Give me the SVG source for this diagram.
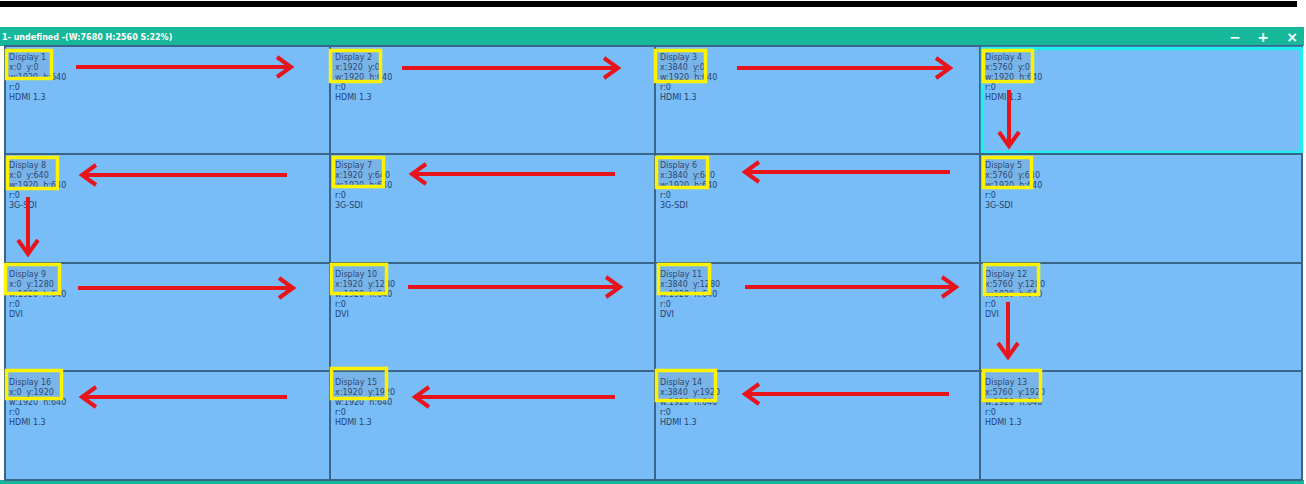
<svg xmlns="http://www.w3.org/2000/svg" width="1306" height="484" viewBox="0 0 1306 484">
<style>
.cell{fill:#78bcf8;stroke:#3a6488;stroke-width:2}
.t{font-family:"DejaVu Sans",Verdana,sans-serif;font-size:8px;fill:#26426e;white-space:pre}
.yb{fill:rgba(120,120,120,0.12);stroke:#fff200;stroke-width:3.5}
.arr{stroke:#e8141c;stroke-width:4;fill:none}
.hd{font-family:"DejaVu Sans",Verdana,sans-serif;font-size:8px;font-weight:bold;fill:#ffffff}
.ic{font-family:"DejaVu Sans",Verdana,sans-serif;font-size:14px;font-weight:bold;fill:#ffffff}
</style>
<defs>
<marker id="ah" markerUnits="userSpaceOnUse" markerWidth="30" markerHeight="30" viewBox="-20 -15 30 30" refX="0" refY="0" orient="auto" overflow="visible">
<path d="M -14 -10 L 0 0 L -14 10" fill="none" stroke="#e8141c" stroke-width="4"/>
</marker>
</defs>
<rect x="0" y="1" width="1297" height="6" fill="#000"/>
<rect x="0" y="27" width="1304" height="19" fill="#17b89a"/>
<text class="hd" x="2" y="40">1- undefined -(W:7680 H:2560 S:22%)</text>
<text class="ic" x="1235" y="42" text-anchor="middle">−</text>
<text class="ic" x="1263" y="42" text-anchor="middle">+</text>
<text class="ic" x="1292" y="42" text-anchor="middle">×</text>
<rect x="0" y="480" width="1304" height="4" fill="#17b89a"/>

<g id="display1"><rect class="cell" x="5" y="46" width="325" height="108"/><text class="t" x="9" y="60">Display 1</text><text class="t" x="9" y="70">x:0  y:0</text><text class="t" x="9" y="80">w:1920  h:640</text><text class="t" x="9" y="90">r:0</text><text class="t" x="9" y="100">HDMI 1.3</text><rect class="yb" x="6.5" y="50.5" width="45" height="28"/></g>
<g id="display2"><rect class="cell" x="330" y="46" width="325" height="108"/><text class="t" x="335" y="60">Display 2</text><text class="t" x="335" y="70">x:1920  y:0</text><text class="t" x="335" y="80">w:1920  h:640</text><text class="t" x="335" y="90">r:0</text><text class="t" x="335" y="100">HDMI 1.3</text><rect class="yb" x="330.5" y="50.5" width="50" height="31"/></g>
<g id="display3"><rect class="cell" x="655" y="46" width="325" height="108"/><text class="t" x="660" y="60">Display 3</text><text class="t" x="660" y="70">x:3840  y:0</text><text class="t" x="660" y="80">w:1920  h:640</text><text class="t" x="660" y="90">r:0</text><text class="t" x="660" y="100">HDMI 1.3</text><rect class="yb" x="655.5" y="50.5" width="50" height="31"/></g>
<g id="display4"><rect class="cell" x="980" y="46" width="322" height="108"/><rect x="982.5" y="48.5" width="319" height="104" fill="none" stroke="#22eef2" stroke-width="3.5"/><text class="t" x="985" y="60">Display 4</text><text class="t" x="985" y="70">x:5760  y:0</text><text class="t" x="985" y="80">w:1920  h:640</text><text class="t" x="985" y="90">r:0</text><text class="t" x="985" y="100">HDMI 1.3</text><rect class="yb" x="983.5" y="50.5" width="49" height="31"/></g>

<g id="display8"><rect class="cell" x="5" y="154" width="325" height="109"/><text class="t" x="9" y="168">Display 8</text><text class="t" x="9" y="178">x:0  y:640</text><text class="t" x="9" y="188">w:1920  h:640</text><text class="t" x="9" y="198">r:0</text><text class="t" x="9" y="208">3G-SDI</text><rect class="yb" x="7.5" y="157.5" width="50" height="31"/></g>
<g id="display7"><rect class="cell" x="330" y="154" width="325" height="109"/><text class="t" x="335" y="168">Display 7</text><text class="t" x="335" y="178">x:1920  y:640</text><text class="t" x="335" y="188">w:1920  h:640</text><text class="t" x="335" y="198">r:0</text><text class="t" x="335" y="208">3G-SDI</text><rect class="yb" x="333.5" y="157.5" width="50" height="29"/></g>
<g id="display6"><rect class="cell" x="655" y="154" width="325" height="109"/><text class="t" x="660" y="168">Display 6</text><text class="t" x="660" y="178">x:3840  y:640</text><text class="t" x="660" y="188">w:1920  h:640</text><text class="t" x="660" y="198">r:0</text><text class="t" x="660" y="208">3G-SDI</text><rect class="yb" x="656.5" y="157.5" width="51" height="30"/></g>
<g id="display5"><rect class="cell" x="980" y="154" width="322" height="109"/><text class="t" x="985" y="168">Display 5</text><text class="t" x="985" y="178">x:5760  y:640</text><text class="t" x="985" y="188">w:1920  h:640</text><text class="t" x="985" y="198">r:0</text><text class="t" x="985" y="208">3G-SDI</text><rect class="yb" x="983.5" y="157.5" width="48" height="30"/></g>

<g id="display9"><rect class="cell" x="5" y="263" width="325" height="108"/><text class="t" x="9" y="277">Display 9</text><text class="t" x="9" y="287">x:0  y:1280</text><text class="t" x="9" y="297">w:1920  h:640</text><text class="t" x="9" y="307">r:0</text><text class="t" x="9" y="317">DVI</text><rect class="yb" x="5.5" y="264.5" width="54" height="29"/></g>
<g id="display10"><rect class="cell" x="330" y="263" width="325" height="108"/><text class="t" x="335" y="277">Display 10</text><text class="t" x="335" y="287">x:1920  y:1280</text><text class="t" x="335" y="297">w:1920  h:640</text><text class="t" x="335" y="307">r:0</text><text class="t" x="335" y="317">DVI</text><rect class="yb" x="331.5" y="264.5" width="55" height="29"/></g>
<g id="display11"><rect class="cell" x="655" y="263" width="325" height="108"/><text class="t" x="660" y="277">Display 11</text><text class="t" x="660" y="287">x:3840  y:1280</text><text class="t" x="660" y="297">w:1920  h:640</text><text class="t" x="660" y="307">r:0</text><text class="t" x="660" y="317">DVI</text><rect class="yb" x="658.5" y="264.5" width="51" height="29"/></g>
<g id="display12"><rect class="cell" x="980" y="263" width="322" height="108"/><text class="t" x="985" y="277">Display 12</text><text class="t" x="985" y="287">x:5760  y:1280</text><text class="t" x="985" y="297">w:1920  h:640</text><text class="t" x="985" y="307">r:0</text><text class="t" x="985" y="317">DVI</text><rect class="yb" x="984.5" y="264.5" width="54" height="30"/></g>

<g id="display16"><rect class="cell" x="5" y="371" width="325" height="109"/><text class="t" x="9" y="385">Display 16</text><text class="t" x="9" y="395">x:0  y:1920</text><text class="t" x="9" y="405">w:1920  h:640</text><text class="t" x="9" y="415">r:0</text><text class="t" x="9" y="425">HDMI 1.3</text><rect class="yb" x="6.5" y="370.5" width="55" height="28"/></g>
<g id="display15"><rect class="cell" x="330" y="371" width="325" height="109"/><text class="t" x="335" y="385">Display 15</text><text class="t" x="335" y="395">x:1920  y:1920</text><text class="t" x="335" y="405">w:1920  h:640</text><text class="t" x="335" y="415">r:0</text><text class="t" x="335" y="425">HDMI 1.3</text><rect class="yb" x="331.5" y="368.5" width="55" height="30"/></g>
<g id="display14"><rect class="cell" x="655" y="371" width="325" height="109"/><text class="t" x="660" y="385">Display 14</text><text class="t" x="660" y="395">x:3840  y:1920</text><text class="t" x="660" y="405">w:1920  h:640</text><text class="t" x="660" y="415">r:0</text><text class="t" x="660" y="425">HDMI 1.3</text><rect class="yb" x="656.5" y="370.5" width="59" height="30"/></g>
<g id="display13"><rect class="cell" x="980" y="371" width="322" height="109"/><text class="t" x="985" y="385">Display 13</text><text class="t" x="985" y="395">x:5760  y:1920</text><text class="t" x="985" y="405">w:1920  h:640</text><text class="t" x="985" y="415">r:0</text><text class="t" x="985" y="425">HDMI 1.3</text><rect class="yb" x="983.5" y="370.5" width="57" height="30"/></g>

<g id="connectors">
<path class="arr" marker-end="url(#ah)" d="M76 67 H291"/>
<path class="arr" marker-end="url(#ah)" d="M402 68 H618"/>
<path class="arr" marker-end="url(#ah)" d="M737 68 H950"/>
<path class="arr" marker-end="url(#ah)" d="M1009 90 V146"/>
<path class="arr" marker-end="url(#ah)" d="M950 172 H745"/>
<path class="arr" marker-end="url(#ah)" d="M615 174 H412"/>
<path class="arr" marker-end="url(#ah)" d="M287 175 H82"/>
<path class="arr" marker-end="url(#ah)" d="M28 197 V254"/>
<path class="arr" marker-end="url(#ah)" d="M78 288 H293"/>
<path class="arr" marker-end="url(#ah)" d="M408 287 H620"/>
<path class="arr" marker-end="url(#ah)" d="M745 287 H956"/>
<path class="arr" marker-end="url(#ah)" d="M1008 302 V357"/>
<path class="arr" marker-end="url(#ah)" d="M949 394 H745"/>
<path class="arr" marker-end="url(#ah)" d="M615 397 H415"/>
<path class="arr" marker-end="url(#ah)" d="M287 397 H82"/>
</g>
</svg>
